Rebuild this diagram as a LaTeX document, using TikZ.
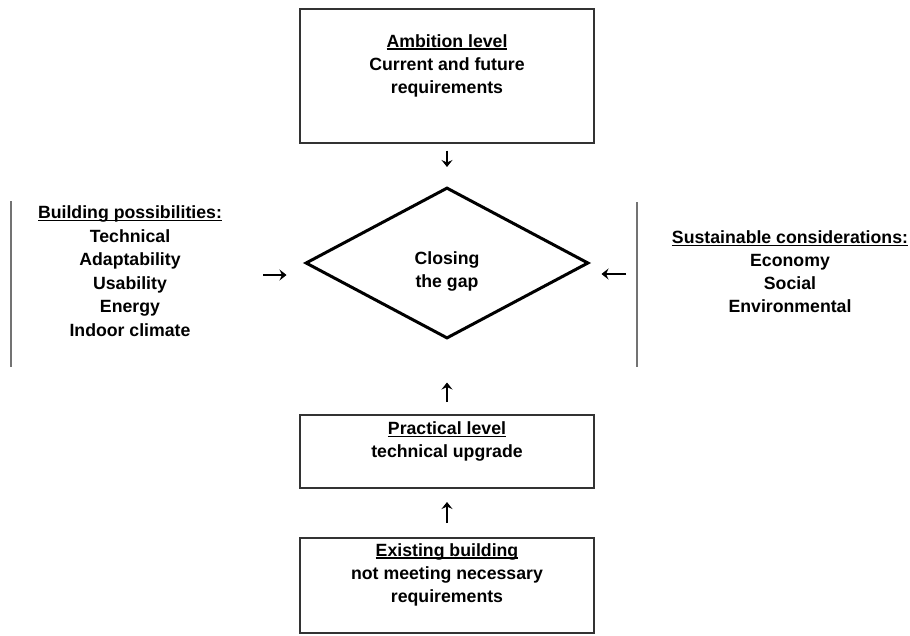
\documentclass[tikz,border=0pt]{standalone}
\usepackage{fontspec}
\setmainfont{Liberation Sans}
\usetikzlibrary{shapes.geometric, arrows.meta, positioning}
\newcommand{\undl}[1]{\setbox0\hbox{#1}\rlap{\rule[-2.6pt]{\wd0}{1.4pt}}\box0}
\tikzset{
  box/.style={rectangle, draw=black!80, line width=2pt, minimum width=294pt},
  gapshape/.style={diamond, draw=black, line width=3pt, minimum width=283pt, minimum height=151pt},
  txt/.style={align=center, inner sep=0pt, font=\fontsize{17.7}{23}\selectfont\bfseries},
  sepline/.style={draw=black!55, line width=1.4pt}
}
\tikzstyle{arrow} = [line width=2pt,black,-{Stealth[length=7pt,width=11pt,inset=2.5pt]}]

\begin{document}
\begin{tikzpicture}[x=1pt,y=-1pt]
    \useasboundingbox (0,0) rectangle (910,635);
    \node [gapshape] (gap) at (447,263) {};
    \node [box, minimum height=134pt, above=42.5pt of gap] (amb) {};
    \node [box, minimum height=73pt, below=74pt of gap] (prac) {};
    \node [box, minimum height=95pt, below=48pt of prac] (exist) {};

    \node [txt] (ambtxt) at ([yshift=10pt]amb.center) {\undl{Ambition level}\\Current and future\\requirements};
    \node [txt] (gaptxt) at ([yshift=-8.5pt]gap.center) {Closing\\the gap};
    \node [txt] (practxt) at ([yshift=10pt]prac.center) {\undl{Practical level}\\technical upgrade};
    \node [txt] (existtxt) at ([yshift=11pt]exist.center) {\undl{Existing building}\\not meeting necessary\\requirements};
    \node [txt, font=\fontsize{17.7}{23.5}\selectfont\bfseries] (possib) at (130,271) {\undl{Building possibilities:}\\Technical\\Adaptability\\Usability\\Energy\\Indoor climate};
    \node [txt] (sustain) at (790,271.5) {\undl{Sustainable considerations:}\\Economy\\Social\\Environmental};

    % side rules
    \draw [sepline] (11,201) -- (11,367);
    \draw [sepline] (637,202) -- (637,367);

    \coordinate (inL) at (263,275);
    \coordinate (inR) at (626,274);
    \draw [arrow, shorten <=7pt, shorten >=19pt] (amb) -- (gap);
    \draw [arrow, shorten <=12pt, shorten >=42.5pt] (prac) -- (gap);
    \draw [arrow, shorten <=14pt, shorten >=13pt] (exist) -- (prac);
    \draw [arrow, shorten >=17.5pt] (inL) -- (inL -| gap.west);
    \draw [arrow, shorten >=11.5pt] (inR) -- (inR -| gap.east);
\end{tikzpicture}
\end{document}
